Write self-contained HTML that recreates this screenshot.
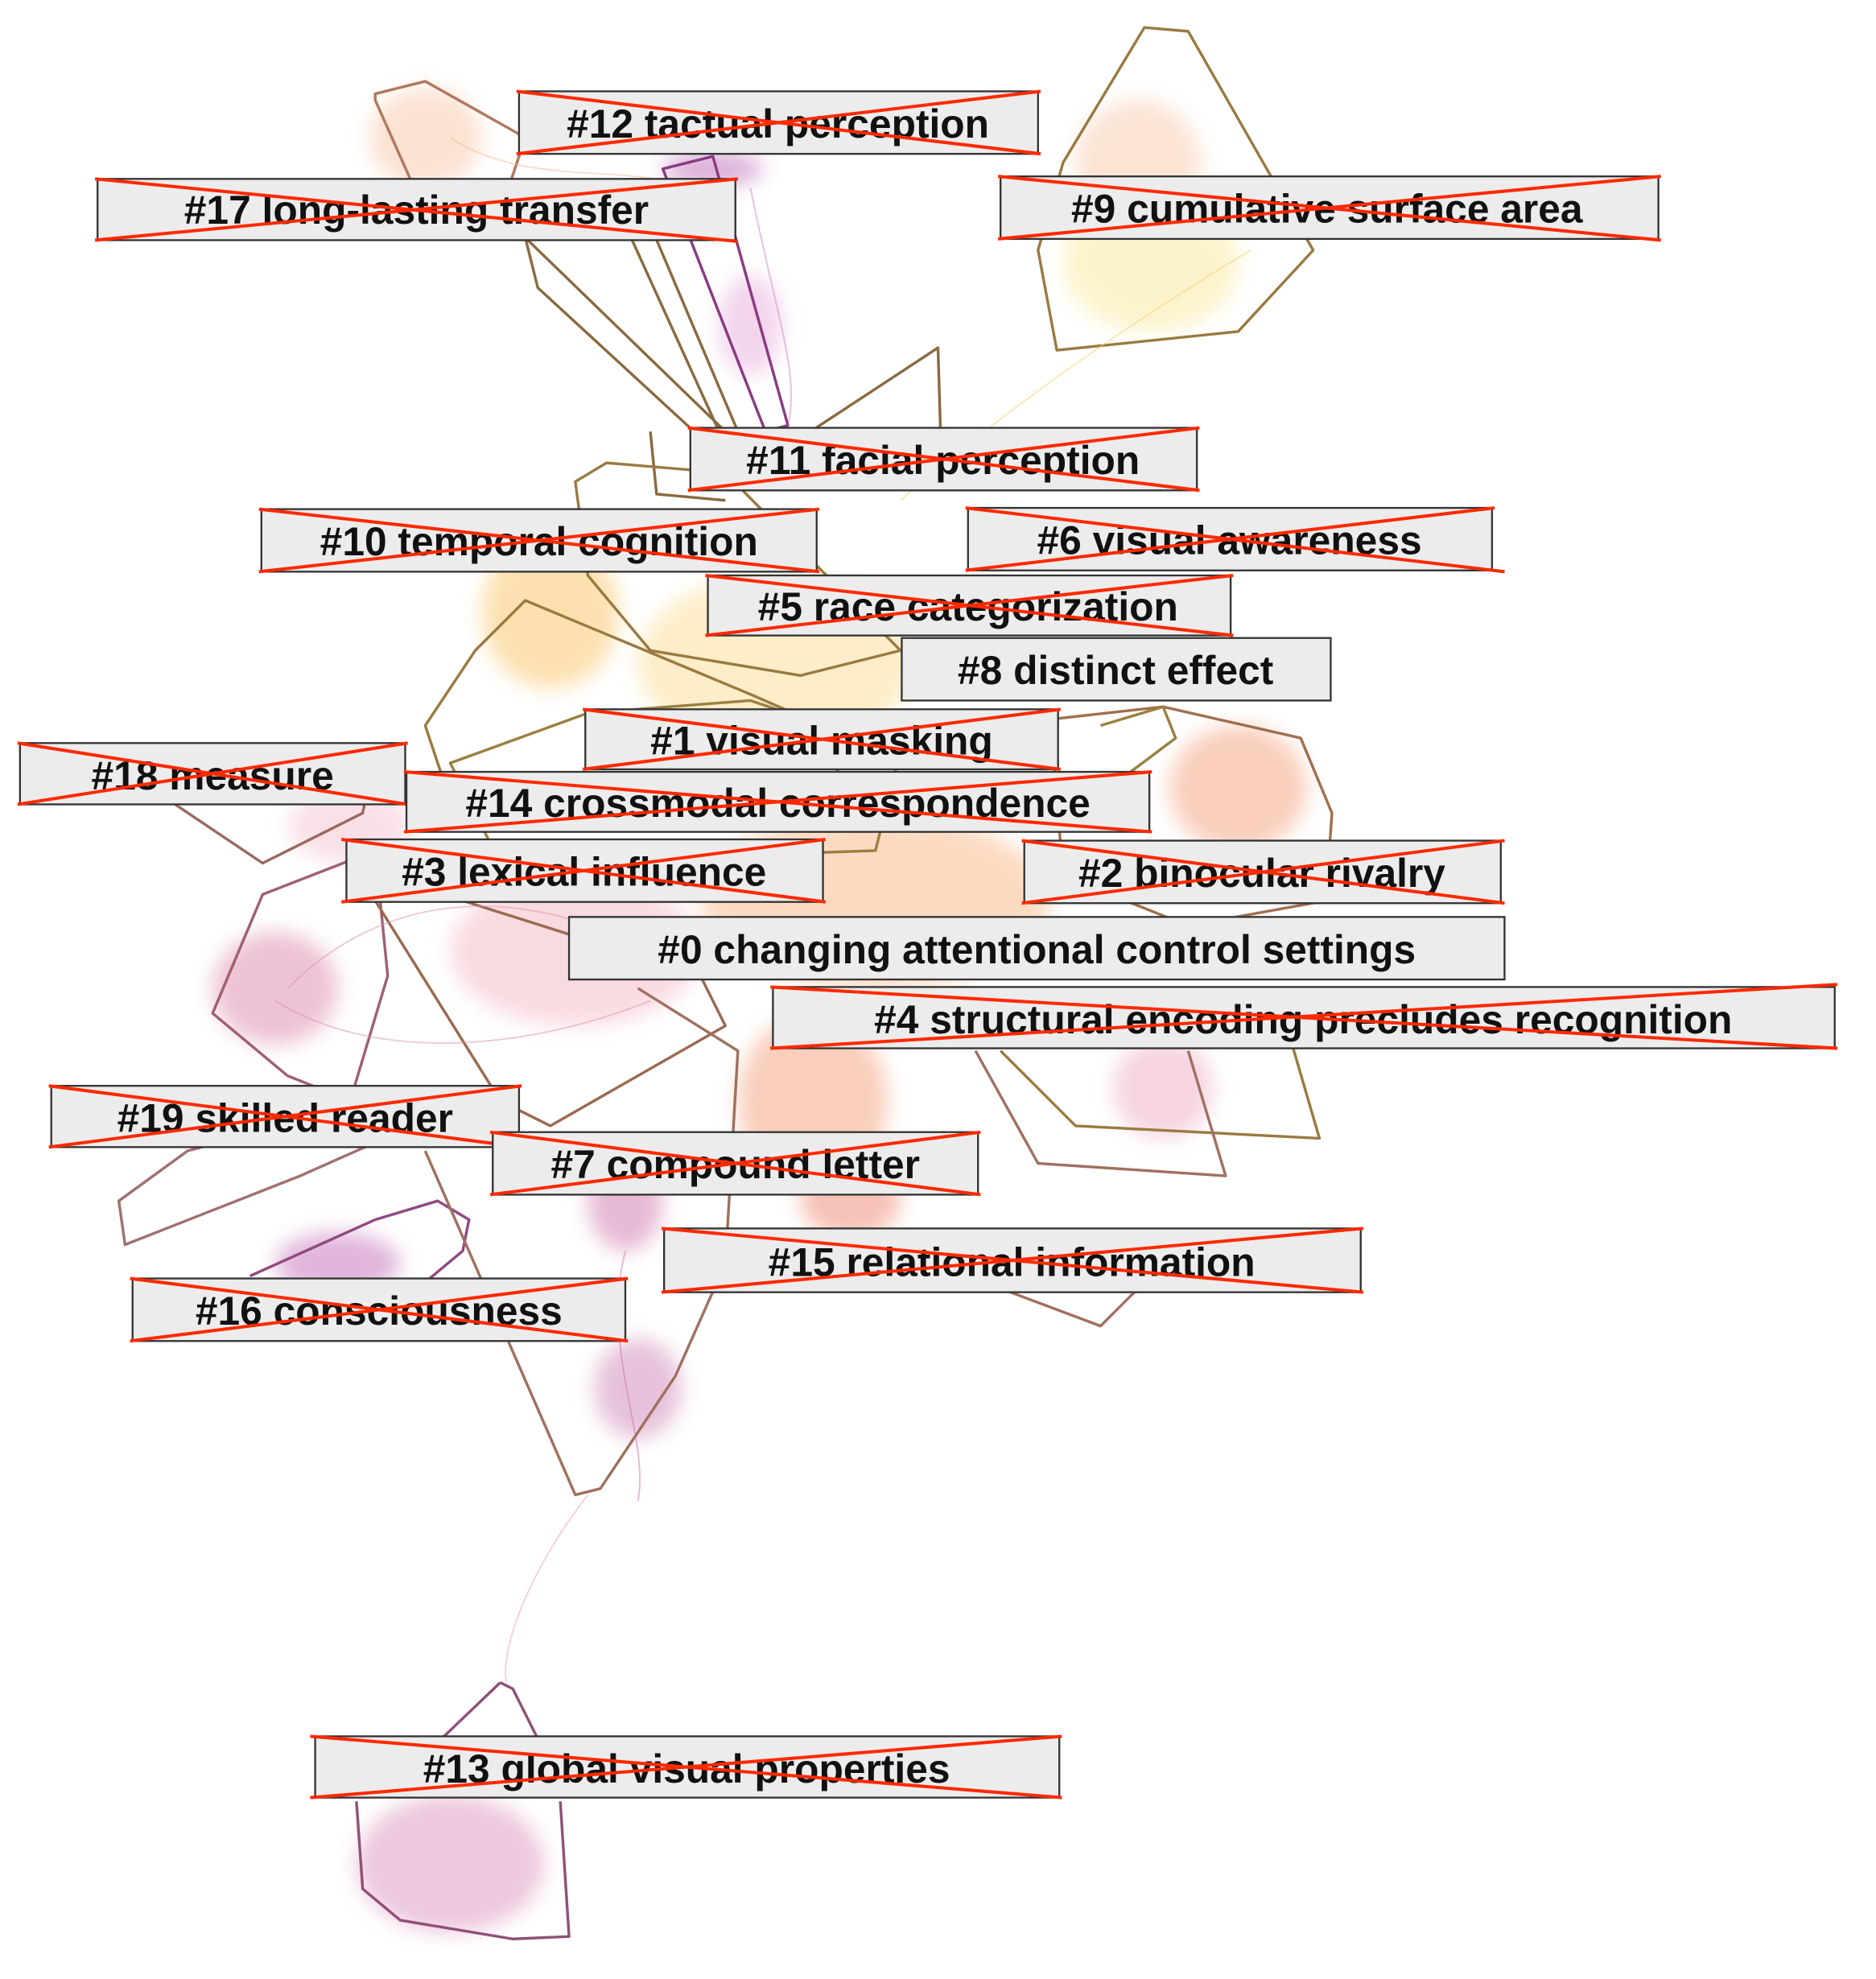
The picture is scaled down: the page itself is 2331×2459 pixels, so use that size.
<!DOCTYPE html>
<html><head><meta charset="utf-8"><style>
html,body{margin:0;padding:0;background:#fff;}
svg{display:block;}
text{font-family:"Liberation Sans",Arial,sans-serif;font-weight:bold;font-size:32px;fill:#111;}
</style></head><body>
<svg width="2331" height="2459" viewBox="0 0 1500 1582" preserveAspectRatio="none" xmlns="http://www.w3.org/2000/svg">
<defs><filter id="b" x="-20%" y="-20%" width="140%" height="140%"><feGaussianBlur stdDeviation="8"/></filter></defs>
<g filter="url(#b)" opacity="0.38">
<ellipse cx="340" cy="110" rx="45" ry="40" fill="#f7b48a"/>
<ellipse cx="910" cy="130" rx="50" ry="50" fill="#f8b890"/>
<ellipse cx="920" cy="210" rx="70" ry="55" fill="#f9e27a"/>
<ellipse cx="570" cy="135" rx="40" ry="14" fill="#a0309a"/>
<ellipse cx="600" cy="260" rx="25" ry="40" fill="#e090d0"/>
<ellipse cx="440" cy="490" rx="55" ry="60" fill="#f9b030"/>
<ellipse cx="620" cy="530" rx="110" ry="70" fill="#fbd070"/>
<ellipse cx="990" cy="630" rx="55" ry="50" fill="#f08050"/>
<ellipse cx="700" cy="720" rx="140" ry="70" fill="#f8a060"/>
<ellipse cx="220" cy="790" rx="50" ry="45" fill="#d06090"/>
<ellipse cx="460" cy="760" rx="100" ry="60" fill="#f0a0b0"/>
<ellipse cx="650" cy="880" rx="60" ry="70" fill="#f08050"/>
<ellipse cx="680" cy="960" rx="40" ry="30" fill="#e86040"/>
<ellipse cx="500" cy="960" rx="30" ry="40" fill="#c04890"/>
<ellipse cx="510" cy="1110" rx="35" ry="40" fill="#c060a0"/>
<ellipse cx="270" cy="1010" rx="50" ry="25" fill="#b040a0"/>
<ellipse cx="930" cy="870" rx="40" ry="40" fill="#e890b0"/>
<ellipse cx="360" cy="1490" rx="75" ry="55" fill="#d070a8"/>
<ellipse cx="280" cy="660" rx="50" ry="30" fill="#f0b0c0"/>
</g>
<g fill="none" stroke-width="2.2" stroke-linejoin="round">
<path d="M300,75 L340,65 L420,110 L400,170 L340,170 L300,80Z" stroke="#b07860"/>
<path d="M915,22 L950,25 L1050,200 L990,265 L845,280 L830,200 L850,130Z" stroke="#9a7a40"/>
<path d="M420,190 L580,345 L555,345 L430,230Z" stroke="#8a6a40"/>
<path d="M500,180 L575,345 L590,345 L520,180Z" stroke="#8a6a40"/>
<path d="M530,135 L570,125 L630,340 L612,345Z" stroke="#8a3a80"/>
<path d="M648,345 L750,278 L752,345" stroke="#8a6a40"/>
<path d="M520,345 L525,395 L580,400" stroke="#8a6a40"/>
<path d="M460,385 L485,370 L580,378 L720,520 L640,540 L520,520 L470,460Z" stroke="#9a7a40"/>
<path d="M380,520 L420,480 L600,555 L680,590 L660,640 L360,640 L340,580Z" stroke="#9a7a40"/>
<path d="M360,610 L470,570 L600,560 L720,600 L700,680 L400,690Z" stroke="#9a8040"/>
<path d="M840,575 L930,565 L1040,590 L1065,650 L1060,720 L950,740 L850,700Z" stroke="#a07050"/>
<path d="M140,643 L210,690 L290,650 L300,600" stroke="#9a6a60"/>
<path d="M170,810 L210,715 L300,680 L310,780 L280,880 L230,860Z" stroke="#a06070"/>
<path d="M300,720 L400,880 L440,900 L580,820 L560,780 L370,720Z" stroke="#9a6a50"/>
<path d="M95,960 L100,995 L240,940 L330,900 L300,880 L150,920Z" stroke="#a07070"/>
<path d="M200,1020 L300,975 L350,960 L375,975 L370,1000 L340,1025" stroke="#904a80"/>
<path d="M340,920 L460,1195 L480,1190 L540,1100 L580,1010 L590,840 L510,790" stroke="#a07060"/>
<path d="M800,840 L860,900 L1055,910 L1020,790" stroke="#9a7a40"/>
<path d="M780,840 L830,930 L980,940 L950,840" stroke="#a07060"/>
<path d="M800,1030 L880,1060 L910,1030" stroke="#a07060"/>
<path d="M880,580 L930,565 L940,590 L900,620" stroke="#9a8040"/>
<path d="M400,1345 L410,1350 L430,1390 M285,1440 L290,1510 L320,1535 L410,1550 L455,1548 L448,1440" stroke="#905078"/>
<path d="M355,1388 L400,1345" stroke="#905078"/>
</g>
<g fill="none" stroke-width="1.2" opacity="0.5">
<path d="M470,1195 C420,1260 400,1320 405,1345" stroke="#f0a0b0"/>
<path d="M600,150 C620,250 640,300 630,340" stroke="#d080c0"/>
<path d="M1000,200 C900,260 800,330 720,400" stroke="#f8d070"/>
<path d="M230,790 C300,720 400,700 520,760" stroke="#e090b0"/>
<path d="M220,800 C300,850 420,840 520,800" stroke="#e090b0"/>
<path d="M500,1000 C480,1080 520,1150 510,1200" stroke="#d070b0"/>
<path d="M360,110 C420,150 500,130 550,150" stroke="#f8b890"/>
</g>
<g>
<g><rect x="415" y="73" width="415" height="50" fill="#ececec" stroke="#333" stroke-width="1.5"/><text x="622" y="110" text-anchor="middle">#12 tactual perception</text><path d="M413,73 L832,123 M413,123 L832,73" stroke="#ff2a00" stroke-width="2.6"/></g>
<g><rect x="78" y="143" width="510" height="49" fill="#ececec" stroke="#333" stroke-width="1.5"/><text x="333" y="179" text-anchor="middle">#17  long-lasting transfer</text><path d="M76,143 L590,193 M76,192 L590,143" stroke="#ff2a00" stroke-width="2.6"/></g>
<g><rect x="800" y="141" width="526" height="50" fill="#ececec" stroke="#333" stroke-width="1.5"/><text x="1061" y="178" text-anchor="middle">#9 cumulative surface area</text><path d="M798,141 L1328,192 M798,191 L1328,141" stroke="#ff2a00" stroke-width="2.6"/></g>
<g><rect x="552" y="342" width="405" height="50" fill="#ececec" stroke="#333" stroke-width="1.5"/><text x="754" y="379" text-anchor="middle">#11 facial perception</text><path d="M550,342 L959,392 M550,392 L959,342" stroke="#ff2a00" stroke-width="2.6"/></g>
<g><rect x="209" y="407" width="444" height="50" fill="#ececec" stroke="#333" stroke-width="1.5"/><text x="431" y="444" text-anchor="middle">#10 temporal cognition</text><path d="M207,407 L655,457 M207,457 L655,407" stroke="#ff2a00" stroke-width="2.6"/></g>
<g><rect x="774" y="406" width="419" height="50" fill="#ececec" stroke="#333" stroke-width="1.5"/><text x="983" y="443" text-anchor="middle">#6 visual awareness</text><path d="M772,406 L1203,457 M772,456 L1195,406" stroke="#ff2a00" stroke-width="2.6"/></g>
<g><rect x="566" y="460" width="418" height="48" fill="#ececec" stroke="#333" stroke-width="1.5"/><text x="774" y="496" text-anchor="middle">#5 race categorization</text><path d="M564,460 L986,508 M564,508 L986,460" stroke="#ff2a00" stroke-width="2.6"/></g>
<g><rect x="721" y="510" width="343" height="50" fill="#ececec" stroke="#333" stroke-width="1.5"/><text x="892" y="547" text-anchor="middle">#8 distinct effect</text></g>
<g><rect x="468" y="567" width="378" height="48" fill="#ececec" stroke="#333" stroke-width="1.5"/><text x="657" y="603" text-anchor="middle">#1 visual masking</text><path d="M466,567 L848,615 M466,615 L848,567" stroke="#ff2a00" stroke-width="2.6"/></g>
<g><rect x="16" y="594" width="308" height="49" fill="#ececec" stroke="#333" stroke-width="1.5"/><text x="170" y="631" text-anchor="middle">#18  measure</text><path d="M14,594 L326,643 M14,643 L326,594" stroke="#ff2a00" stroke-width="2.6"/></g>
<g><rect x="325" y="617" width="594" height="48" fill="#ececec" stroke="#333" stroke-width="1.5"/><text x="622" y="653" text-anchor="middle">#14  crossmodal correspondence</text><path d="M323,617 L921,665 M323,665 L921,617" stroke="#ff2a00" stroke-width="2.6"/></g>
<g><rect x="277" y="671" width="381" height="50" fill="#ececec" stroke="#333" stroke-width="1.5"/><text x="467" y="708" text-anchor="middle">#3 lexical influence</text><path d="M273,671 L660,721 M273,721 L660,671" stroke="#ff2a00" stroke-width="2.6"/></g>
<g><rect x="819" y="672" width="381" height="50" fill="#ececec" stroke="#333" stroke-width="1.5"/><text x="1009" y="709" text-anchor="middle">#2 binocular rivalry</text><path d="M817,672 L1203,722 M817,722 L1203,672" stroke="#ff2a00" stroke-width="2.6"/></g>
<g><rect x="455" y="733" width="748" height="50" fill="#ececec" stroke="#333" stroke-width="1.5"/><text x="829" y="770" text-anchor="middle">#0 changing attentional control settings</text></g>
<g><rect x="618" y="789" width="849" height="49" fill="#ececec" stroke="#333" stroke-width="1.5"/><text x="1042" y="826" text-anchor="middle">#4 structural encoding precludes recognition</text><path d="M616,789 L1469,838 M616,838 L1469,787" stroke="#ff2a00" stroke-width="2.6"/></g>
<g><rect x="41" y="868" width="374" height="49" fill="#ececec" stroke="#333" stroke-width="1.5"/><text x="228" y="905" text-anchor="middle">#19  skilled reader</text><path d="M39,868 L417,917 M39,917 L417,868" stroke="#ff2a00" stroke-width="2.6"/></g>
<g><rect x="394" y="905" width="388" height="50" fill="#ececec" stroke="#333" stroke-width="1.5"/><text x="588" y="942" text-anchor="middle">#7 compound letter</text><path d="M392,905 L784,955 M392,955 L784,905" stroke="#ff2a00" stroke-width="2.6"/></g>
<g><rect x="531" y="982" width="557" height="51" fill="#ececec" stroke="#333" stroke-width="1.5"/><text x="809" y="1020" text-anchor="middle">#15  relational information</text><path d="M529,982 L1090,1033 M529,1033 L1090,982" stroke="#ff2a00" stroke-width="2.6"/></g>
<g><rect x="106" y="1022" width="394" height="50" fill="#ececec" stroke="#333" stroke-width="1.5"/><text x="303" y="1059" text-anchor="middle">#16  consciousness</text><path d="M104,1022 L502,1072 M104,1072 L502,1022" stroke="#ff2a00" stroke-width="2.6"/></g>
<g><rect x="252" y="1388" width="595" height="49" fill="#ececec" stroke="#333" stroke-width="1.5"/><text x="549" y="1425" text-anchor="middle">#13  global visual properties</text><path d="M248,1388 L849,1437 M248,1437 L849,1388" stroke="#ff2a00" stroke-width="2.6"/></g>
</g>
</svg>
</body></html>
